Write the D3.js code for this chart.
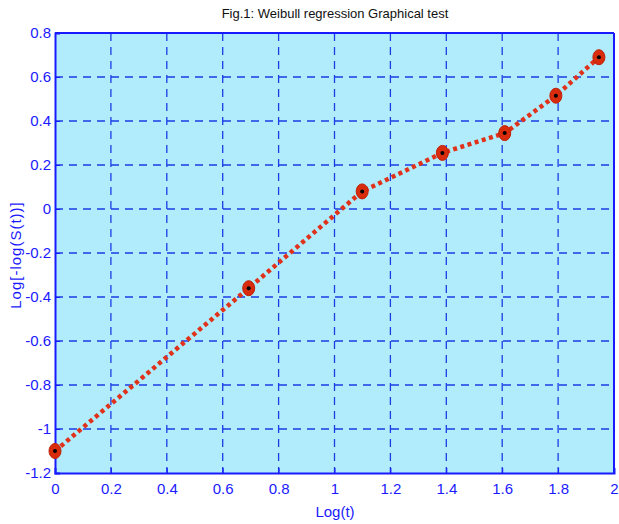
<!DOCTYPE html>
<html><head><meta charset="utf-8">
<script src="https://cdn.jsdelivr.net/npm/d3@7"></script>
<style>body{margin:0;background:#fff}svg{display:block}</style>
</head><body>
<script>
const logT = [0, 0.693, 1.099, 1.386, 1.609, 1.792, 1.946];
const logLogS = [-1.1, -0.36, 0.08, 0.255, 0.345, 0.515, 0.69];
const xTicks = [0, 0.2, 0.4, 0.6, 0.8, 1, 1.2, 1.4, 1.6, 1.8, 2];
const yTicks = [-1.2, -1, -0.8, -0.6, -0.4, -0.2, 0, 0.2, 0.4, 0.6, 0.8];

const W = 619, H = 524;
const m = {l: 55, r: 5, t: 33, b: 51};
const svg = d3.select("body").append("svg").attr("width", W).attr("height", H);
const x = d3.scaleLinear().domain([0, 2]).range([m.l, W - m.r]);
const y = d3.scaleLinear().domain([-1.2, 0.8]).range([H - m.b, m.t]);
const font = "'Liberation Sans Narrow', 'Liberation Sans', Arial, sans-serif";
const blue = "#1a1aff";

svg.append("rect").attr("x", x(0)).attr("y", y(0.8))
  .attr("width", x(2) - x(0)).attr("height", y(-1.2) - y(0.8)).attr("fill", "#b0ecfb");

// grid
const g = svg.append("g");
g.selectAll(".vg").data(xTicks.slice(1, -1)).join("line")
  .attr("x1", d => x(d)).attr("x2", d => x(d)).attr("y1", y(0.8)).attr("y2", y(-1.2))
  .attr("stroke", "#1c3ce6").attr("stroke-width", 1.3).attr("stroke-dasharray", "8,6");
g.selectAll(".hg").data(yTicks.slice(1, -1)).join("line")
  .attr("y1", d => y(d)).attr("y2", d => y(d)).attr("x1", x(0)).attr("x2", x(2))
  .attr("stroke", "#1c3ce6").attr("stroke-width", 1.3).attr("stroke-dasharray", "8,6");

// axes
const fmt = d => String(d);
const xa = svg.append("g").attr("transform", `translate(0,${y(-1.2)})`)
  .call(d3.axisBottom(x).tickValues(xTicks).tickSize(-5).tickPadding(10).tickFormat(fmt));
const ya = svg.append("g").attr("transform", `translate(${x(0)},0)`)
  .call(d3.axisLeft(y).tickValues(yTicks).tickSize(-5).tickPadding(4).tickFormat(fmt));
[xa, ya].forEach(a => {
  a.select(".domain").attr("stroke", blue).attr("stroke-width", 2);
  a.selectAll(".tick line").attr("stroke", blue);
  a.selectAll("text").attr("fill", blue).attr("font-family", font).attr("font-size", 15);
});
svg.append("line").attr("x1", x(0)).attr("x2", x(2)).attr("y1", y(0.8)).attr("y2", y(0.8)).attr("stroke", blue).attr("stroke-width", 2);
svg.append("line").attr("x1", x(2)).attr("x2", x(2)).attr("y1", y(0.8)).attr("y2", y(-1.2)).attr("stroke", blue).attr("stroke-width", 2);

// line
const pts = logT.map((t, i) => [t, logLogS[i]]);
svg.append("path").datum(pts)
  .attr("d", d3.line().x(d => x(d[0])).y(d => y(d[1])))
  .attr("fill", "none").attr("stroke", "#e0321a").attr("stroke-width", 4.5).attr("stroke-dasharray", "4,3.5");
svg.selectAll(".mk").data(pts).join("ellipse")
  .attr("cx", d => x(d[0])).attr("cy", d => y(d[1])).attr("rx", 6).attr("ry", 7.5)
  .attr("fill", "#d82c0c").attr("stroke", "#c02008").attr("stroke-width", 1);
svg.selectAll(".dt").data(pts).join("circle")
  .attr("cx", d => x(d[0])).attr("cy", d => y(d[1])).attr("r", 2).attr("fill", "#000");

// texts
svg.append("text").attr("x", 335).attr("y", 18).attr("text-anchor", "middle")
  .attr("font-family", font).attr("font-size", 13).attr("fill", "#111")
  .text("Fig.1: Weibull regression Graphical test");
svg.append("text").attr("x", 335).attr("y", 517).attr("text-anchor", "middle")
  .attr("font-family", font).attr("font-size", 15).attr("fill", blue).text("Log(t)");
svg.append("text").attr("transform", "translate(21,255) rotate(-90)").attr("text-anchor", "middle")
  .attr("font-family", font).attr("font-size", 15).attr("fill", blue).attr("letter-spacing", 1)
  .text("Log[-log(S(t))]");
</script>
</body></html>
